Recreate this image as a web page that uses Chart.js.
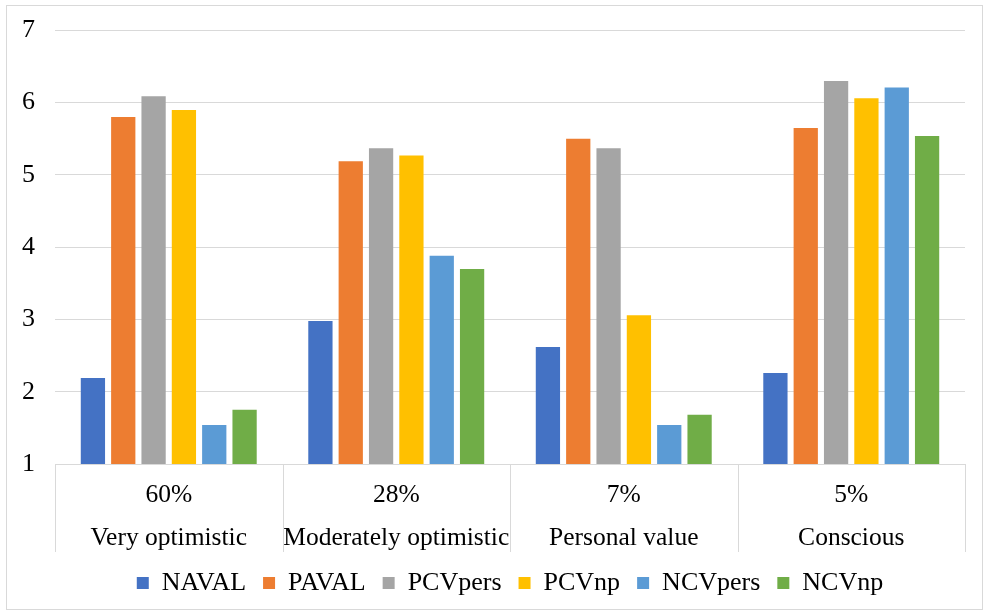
<!DOCTYPE html>
<html>
<head>
<meta charset="utf-8">
<script src="https://cdn.jsdelivr.net/npm/chart.js@4.4.0/dist/chart.umd.min.js"></script>
<style>
  body { margin: 0; background: #fff; }
  #wrap { position: absolute; left: 0; top: 0; width: 986px; height: 613px; }
  #frame { position: absolute; left: 6px; top: 5px; width: 975px; height: 603px; border: 1px solid #d9d9d9; pointer-events: none; }
</style>
</head>
<body>
<div id="wrap">
  <canvas id="chart" width="986" height="613"></canvas>
  <div id="frame"></div>
</div>
<script>
// category labels: share on top line, segment name below
var shares = ['60%', '28%', '7%', '5%'];
var segments = ['Very optimistic', 'Moderately optimistic', 'Personal value', 'Conscious'];

// series values
var naval   = [2.19, 2.98, 2.62, 2.26];
var paval   = [5.80, 5.19, 5.50, 5.65];
var pcvPers = [6.09, 5.37, 5.37, 6.30];
var pcvNp   = [5.90, 5.27, 3.06, 6.06];
var ncvPers = [1.54, 3.88, 1.54, 6.21];
var ncvNp   = [1.75, 3.70, 1.68, 5.54];

var yTicks = [1, 2, 3, 4, 5, 6, 7];

var serif = "'Liberation Serif', 'Times New Roman', serif";

function mkSet(label, data, color) {
	return { label: label, data: data, backgroundColor: color, borderWidth: 0,
	         categoryPercentage: 0.8, barPercentage: 0.8 };
}

var labels = shares.map(function(s, i) { return [s, segments[i]]; });

// vertical lines between the categories, under the x axis (table style)
var sepLen = 88;
var catSeparators = {
	id: 'catSeparators',
	afterDraw: function(chart) {
		var xs = chart.scales.x;
		var c = chart.ctx;
		var n = chart.data.labels.length;
		var pos = [xs.left];
		for (var i = 1; i < n; i++) {
			pos.push((xs.getPixelForValue(i - 1) + xs.getPixelForValue(i)) / 2);
		}
		pos.push(xs.right);
		c.save();
		c.strokeStyle = '#d9d9d9';
		c.lineWidth = 1;
		pos.forEach(function(p) {
			var px = Math.round(p) + 0.5;
			c.beginPath();
			c.moveTo(px, xs.top);
			c.lineTo(px, xs.top + sepLen);
			c.stroke();
		});
		c.restore();
	}
};

var ctx = document.getElementById('chart');
new Chart(ctx, {
	type: 'bar',
	data: {
		labels: labels,
		datasets: [
			mkSet('NAVAL', naval, '#4472c4'),
			mkSet('PAVAL', paval, '#ed7d31'),
			mkSet('PCVpers', pcvPers, '#a5a5a5'),
			mkSet('PCVnp', pcvNp, '#ffc000'),
			mkSet('NCVpers', ncvPers, '#5b9bd5'),
			mkSet('NCVnp', ncvNp, '#70ad47')
		]
	},
	options: {
		responsive: false,
		animation: false,
		layout: { padding: { left: 2, right: 21, top: 9, bottom: 7 } },
		plugins: {
			tooltip: { enabled: false },
			legend: {
				position: 'bottom',
				fullSize: false,
				labels: {
					font: { family: serif, size: 26 },
					color: '#000',
					boxWidth: 12,
					boxHeight: 12,
					padding: 17
				}
			}
		},
		scales: {
			x: {
				grid: { display: false },
				border: { display: true, color: '#d9d9d9' },
				afterFit: function(axis) { axis.height = 89; },
				ticks: {
					font: { family: serif, size: 25.5, lineHeight: 1.69 },
					color: '#000',
					padding: 2,
					maxRotation: 0,
					autoSkip: false
				}
			},
			y: {
				min: yTicks[0],
				max: yTicks[yTicks.length - 1],
				grid: { color: '#d9d9d9', drawTicks: false },
				border: { display: false },
				afterBuildTicks: function(axis) {
					axis.ticks = yTicks.map(function(v) { return { value: v }; });
				},
				ticks: {
					font: { family: serif, size: 26, lineHeight: 0.8 },
					color: '#000',
					padding: 20
				}
			}
		}
	},
	plugins: [catSeparators]
});
</script>
</body>
</html>
